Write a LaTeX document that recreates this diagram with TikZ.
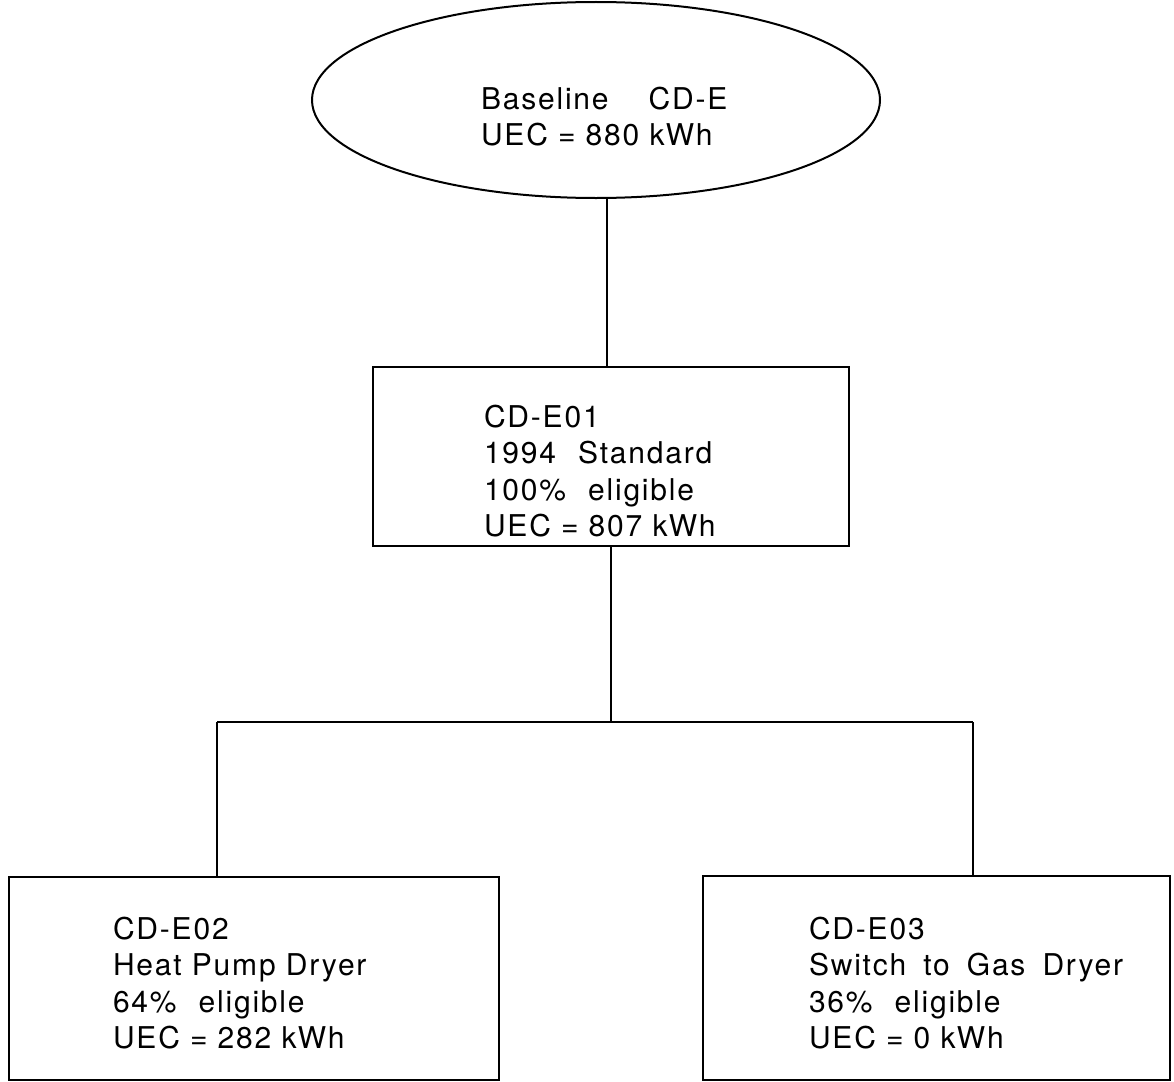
\documentclass[tikz,border=0pt]{standalone}
\usepackage{fontspec}
\setmainfont{TeX Gyre Heros}[LetterSpace=6]
\usetikzlibrary{shapes.geometric}
\begin{document}
\begin{tikzpicture}[x=1pt,y=-1pt,line width=2pt]
\tikzset{
  box/.style={draw, rectangle, inner sep=0pt},
  oval/.style={draw, ellipse, inner sep=0pt},
  txt/.style={anchor=north west, align=left, inner sep=0pt, font=\fontsize{30}{36.5}\selectfont}
}
\useasboundingbox (0,0) rectangle (1174,1081);
\node[oval, minimum width=568, minimum height=196] (base) at (596,100) {};
\node[box, minimum width=476, minimum height=179] (e01) at (611,456) {};
\node[box, minimum width=490, minimum height=203] (e02) at (254,978.5) {};
\node[box, minimum width=467, minimum height=204] (e03) at (936.5,978) {};
\node[txt] (t0) at (480,86) {Baseline\hspace{40pt}CD-E\\UEC = 880 kWh};
\node[txt] (t1) at (483,404) {CD-E01\\1994\hspace{22pt}Standard\\100\%\hspace{22pt}eligible\\UEC = 807 kWh};
\node[txt] (t2) at (112,916) {CD-E02\\Heat Pump Dryer\\64\%\hspace{22pt}eligible\\UEC = 282 kWh};
\node[txt] (t3) at (808,916) {CD-E03\\Switch\hspace{17pt}to\hspace{17pt}Gas\hspace{17pt}Dryer\\36\%\hspace{22pt}eligible\\UEC = 0 kWh};
\coordinate (j) at (611,722);
\coordinate (jl) at (217,722);
\coordinate (jr) at (973,722);
\coordinate (top) at (607,0);
\draw (e01.north -| top) -- (base.south -| top);
\draw (e01.south) -- (j);
\draw (jl) -- (jr);
\draw (jl) -- (jl |- e02.north);
\draw (jr) -- (jr |- e03.north);
\end{tikzpicture}
\end{document}
